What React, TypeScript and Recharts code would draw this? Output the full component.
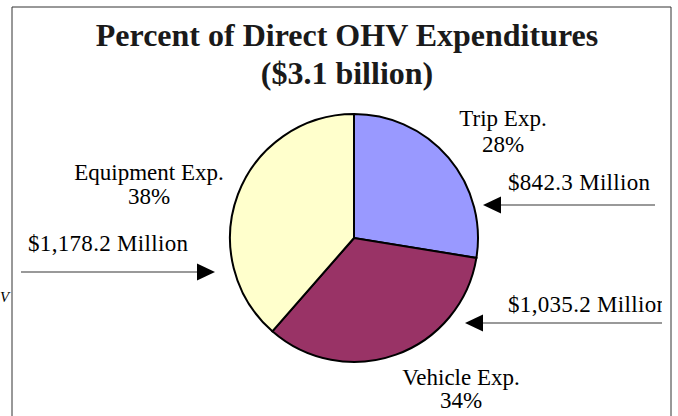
import React from 'react';
import { PieChart, Pie, Cell, Customized } from 'recharts';

const categories = ['Trip Exp.', 'Vehicle Exp.', 'Equipment Exp.'];
const expenditures = [842.3, 1035.2, 1178.2];
const percentLabels = ['28%', '34%', '38%'];
const amountLabels = ['$842.3 Million', '$1,035.2 Million', '$1,178.2 Million'];
const sliceColors = ['#9999FF', '#993366', '#FFFFCC'];
const titleLines = ['Percent of Direct OHV Expenditures', '($3.1 billion)'];

const data = categories.map((name, i) => ({ name, value: expenditures[i] }));

const W = 678;
const H = 416;
const FONT = '"Liberation Serif", "Times New Roman", serif';

// layout of annotations (positions only)
const nameLabelPos = [
  { x: 503, y: 126, y2: 152 },
  { x: 461, y: 385, y2: 408 },
  { x: 149, y: 180, y2: 204 },
];
const arrowPos = [
  { x1: 655, x2: 483, y: 205, tx: 508, ty: 190, len: 142 },
  { x1: 662, x2: 465, y: 323, tx: 508, ty: 312, len: 160 },
  { x1: 21, x2: 215, y: 272, tx: 28, ty: 251, len: 160 },
];

const renderLabel = (props: any) => {
  const i = props.index;
  const p = nameLabelPos[i];
  return (
    <g key={`lbl-${i}`}>
      <text x={p.x} y={p.y} textAnchor="middle" fontFamily={FONT} fontSize={23} fill="#000">
        {categories[i]}
      </text>
      <text x={p.x} y={p.y2} textAnchor="middle" fontFamily={FONT} fontSize={23} fill="#000">
        {percentLabels[i]}
      </text>
    </g>
  );
};

const Decorations = () => (
  <g>
    <defs>
      <clipPath id="plotClip">
        <rect x={12} y={7} width={650} height={H} />
      </clipPath>
    </defs>
    <path d={`M12,${H} L12,7 L671,7 L671,${H}`} fill="none" stroke="#333" strokeWidth={1} />
    {titleLines.map((t, i) => (
      <text
        key={t}
        x={347}
        y={46 + i * 38}
        textAnchor="middle"
        fontFamily={FONT}
        fontWeight="bold"
        fontSize={32}
        fill="#1a1a1a"
      >
        {t}
      </text>
    ))}
    <g clipPath="url(#plotClip)">
      {arrowPos.map((a, i) => {
        const dir = a.x2 > a.x1 ? 1 : -1;
        const baseX = a.x2 - dir * 18;
        return (
          <g key={`arr-${i}`}>
            <line x1={a.x1} y1={a.y} x2={baseX} y2={a.y} stroke="#777" strokeWidth={1.5} />
            <polygon points={`${a.x2},${a.y} ${baseX},${a.y - 8.5} ${baseX},${a.y + 8.5}`} fill="#000" />
            <text
              x={a.tx}
              y={a.ty}
              fontFamily={FONT}
              fontSize={23}
              fill="#000"
              textLength={a.len}
              lengthAdjust="spacing"
            >
              {amountLabels[i]}
            </text>
          </g>
        );
      })}
    </g>
    <text x={0} y={302} fontFamily={FONT} fontStyle="italic" fontSize={15} fill="#000">
      V
    </text>
  </g>
);

export default function App() {
  return (
    <div style={{ position: 'absolute', left: 0, top: 0, width: W, height: H, background: '#fff' }}>
      <PieChart width={W} height={H} margin={{ top: 0, right: 0, bottom: 0, left: 0 }}>
        <Customized component={Decorations} />
        <Pie
          data={data}
          dataKey="value"
          nameKey="name"
          cx={354}
          cy={238}
          outerRadius={124}
          startAngle={90}
          endAngle={-270}
          stroke="#000"
          strokeWidth={2}
          label={renderLabel}
          labelLine={false}
          isAnimationActive={false}
        >
          {data.map((d, i) => (
            <Cell key={d.name} fill={sliceColors[i]} />
          ))}
        </Pie>
      </PieChart>
    </div>
  );
}
